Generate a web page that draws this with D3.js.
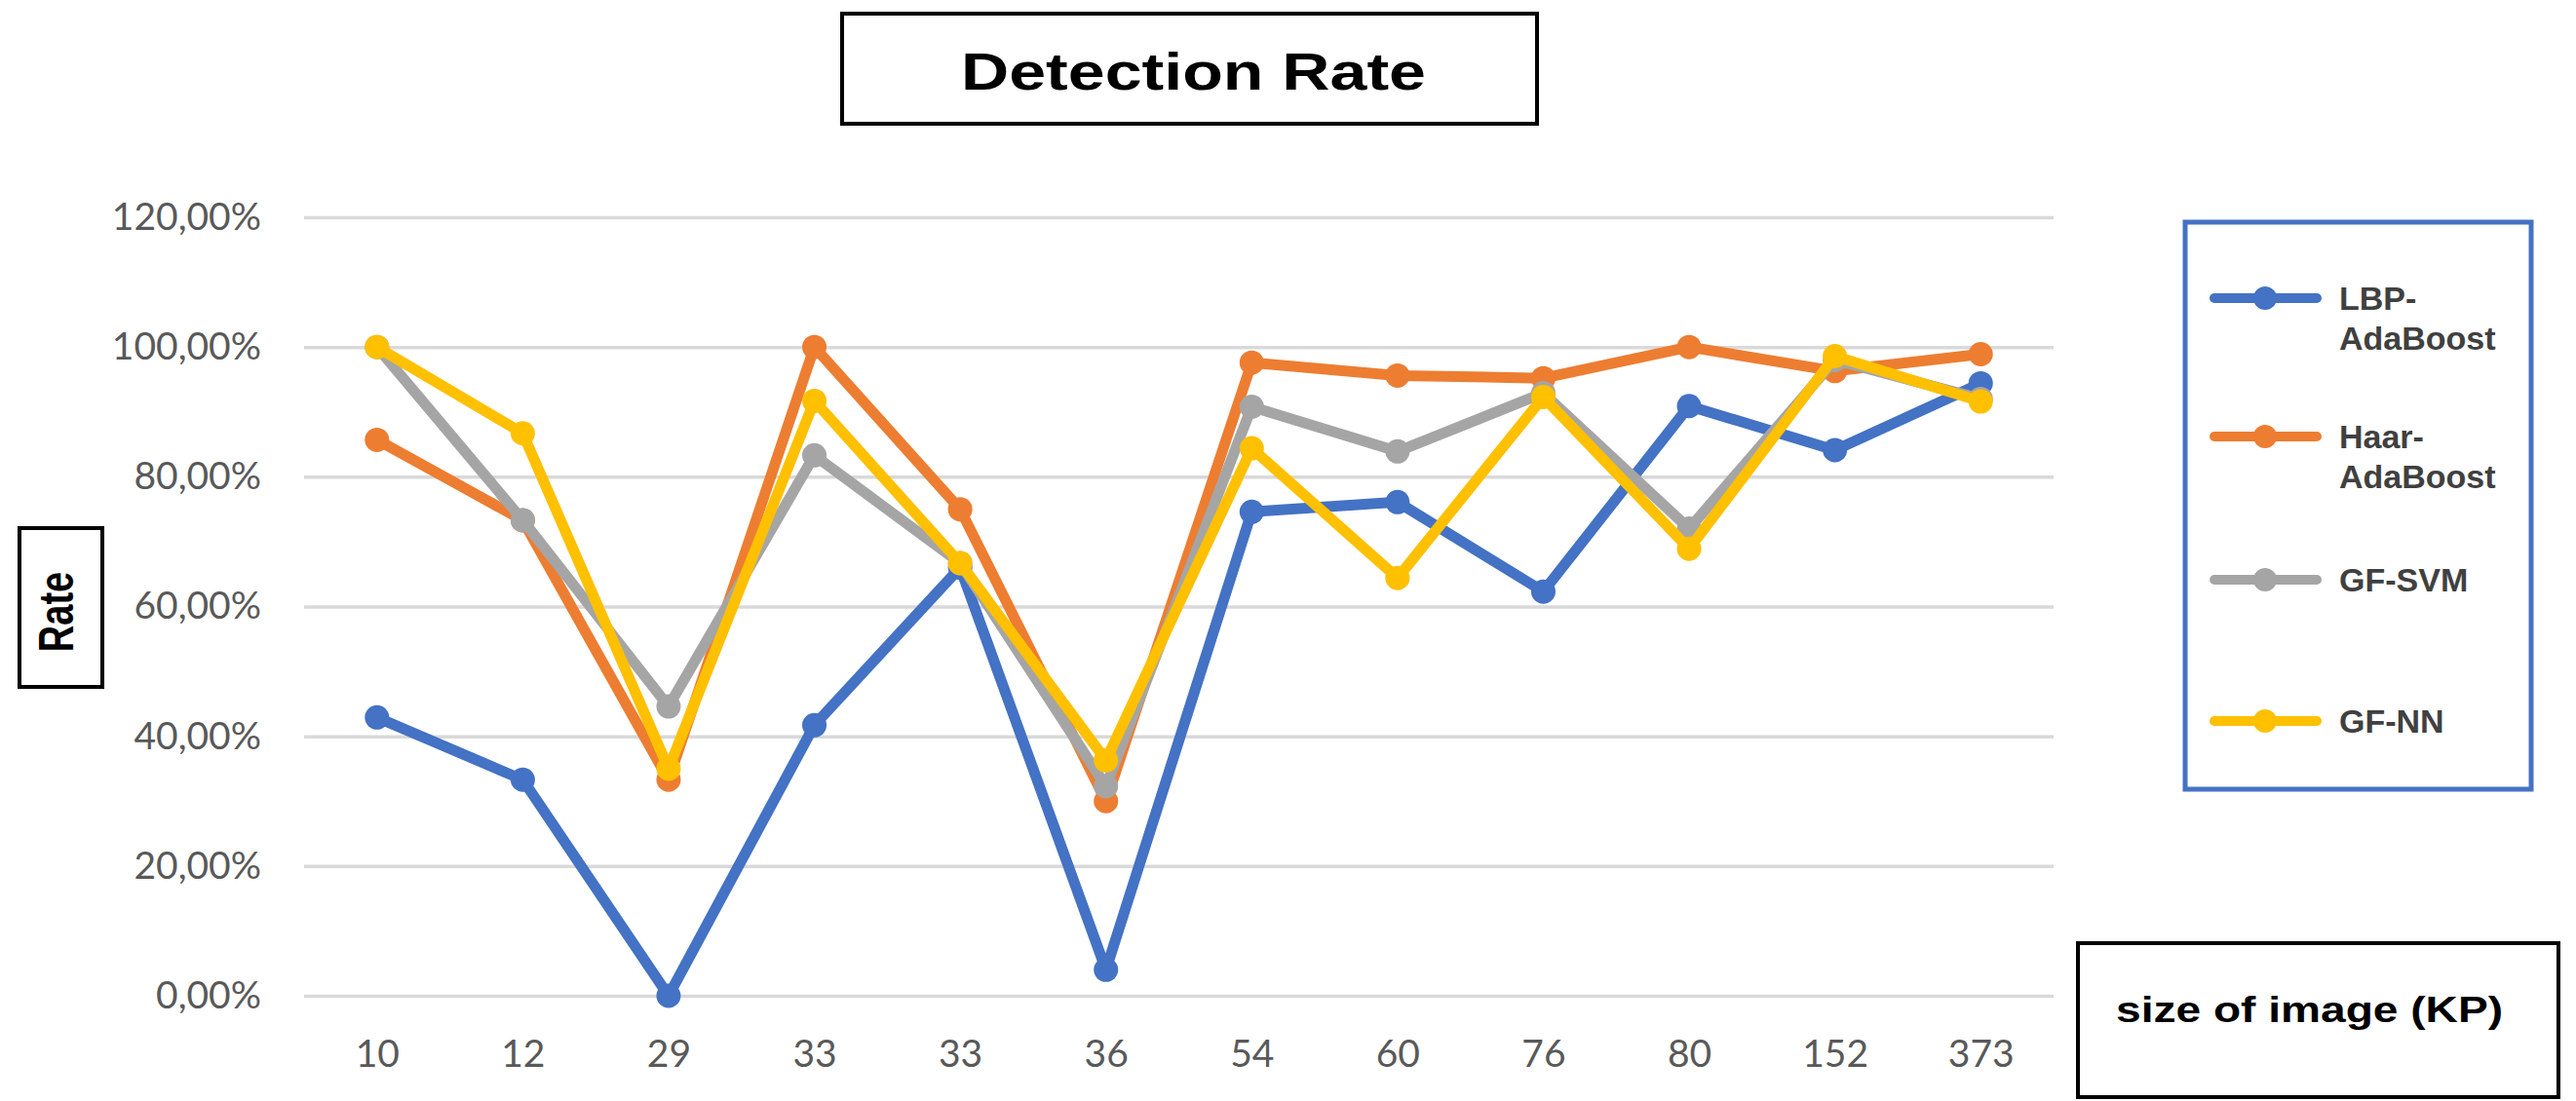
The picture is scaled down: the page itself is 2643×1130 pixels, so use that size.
<!DOCTYPE html>
<html>
<head>
<meta charset="utf-8">
<script src="https://cdn.jsdelivr.net/npm/d3@7"></script>
<style>
  body { margin: 0; background: #fff; }
  svg { display: block; }
</style>
</head>
<body>
<svg width="2643" height="1130"></svg>
<script>
// image sizes (KP) - "33" appears twice in the source chart
const categories = ["10", "12", "29", "33", "33", "36", "54", "60", "76", "80", "152", "373"];

const seriesNames = ["LBP-AdaBoost", "Haar-AdaBoost", "GF-SVM", "GF-NN"];
const legendLines = [["LBP-", "AdaBoost"], ["Haar-", "AdaBoost"], ["GF-SVM"], ["GF-NN"]];
const seriesColors = ["#4472C4", "#ED7D31", "#A5A5A5", "#FFC000"];

// detection rates
const lbpAdaBoost  = [0.429, 0.333, 0.000, 0.417, 0.660, 0.040, 0.746, 0.761, 0.623, 0.909, 0.841, 0.944];
const haarAdaBoost = [0.857, 0.733, 0.333, 1.000, 0.750, 0.300, 0.976, 0.956, 0.952, 1.000, 0.963, 0.989];
const gfSvm        = [1.000, 0.733, 0.446, 0.833, 0.667, 0.323, 0.908, 0.839, 0.929, 0.720, 0.980, 0.920];
const gfNn         = [1.000, 0.867, 0.350, 0.917, 0.667, 0.363, 0.844, 0.644, 0.923, 0.689, 0.986, 0.916];

const yTicks = [0, 0.2, 0.4, 0.6, 0.8, 1.0, 1.2];

const margens = { left: 312, right: 536, top: 223, bottom: 108 };

const svg = d3.select('svg');
const svgWidth = +svg.attr('width');
const svgHeight = +svg.attr('height');
const innerWidth = svgWidth - margens.left - margens.right;
const innerHeight = svgHeight - margens.top - margens.bottom;

const ptBR = d3.formatLocale({ decimal: ",", thousands: ".", grouping: [3], currency: ["", ""] });
const fmtPct = ptBR.format(".2%");

const g = svg.append('g')
    .attr('transform', `translate(${margens.left}, ${margens.top})`);

const x = d3.scalePoint()
    .domain(d3.range(categories.length))
    .range([0, innerWidth])
    .padding(0.5);

const y = d3.scaleLinear()
    .domain([0, 1.2])
    .range([innerHeight, 0]);

// horizontal gridlines + y labels
const axisY = g.append('g')
    .call(d3.axisLeft(y).tickValues(yTicks).tickSize(-innerWidth).tickPadding(44).tickFormat(fmtPct));
axisY.select('.domain').remove();
axisY.selectAll('line').attr('stroke', '#d9d9d9').attr('stroke-width', 3.5);
axisY.selectAll('text')
    .attr('fill', '#595959')
    .attr('font-family', 'Lato, sans-serif')
    .attr('font-size', 39);

// x labels
const axisX = g.append('g')
    .attr('transform', `translate(0,${innerHeight})`)
    .call(d3.axisBottom(x).tickSize(0).tickPadding(45).tickFormat(i => categories[i]));
axisX.select('.domain').remove();
axisX.selectAll('text')
    .attr('fill', '#595959')
    .attr('font-family', 'Lato, sans-serif')
    .attr('font-size', 39);

const allSeries = [lbpAdaBoost, haarAdaBoost, gfSvm, gfNn];

const line = d3.line()
    .x((d, i) => x(i))
    .y(d => y(d));

allSeries.forEach((vals, k) => {
    const sg = g.append('g');
    sg.append('path')
        .datum(vals)
        .attr('fill', 'none')
        .attr('stroke', seriesColors[k])
        .attr('stroke-width', 11)
        .attr('stroke-linejoin', 'round')
        .attr('stroke-linecap', 'round')
        .attr('d', line);
    sg.selectAll('circle')
        .data(vals)
        .join('circle')
        .attr('cx', (d, i) => x(i))
        .attr('cy', d => y(d))
        .attr('r', 12.5)
        .attr('fill', seriesColors[k]);
});

// title box
svg.append('rect')
    .attr('x', 864).attr('y', 14)
    .attr('width', 713).attr('height', 113)
    .attr('fill', '#fff').attr('stroke', '#000').attr('stroke-width', 4);
svg.append('text')
    .attr('x', 986).attr('y', 92)
    .attr('font-family', 'Liberation Sans, Arial, sans-serif')
    .attr('font-weight', 'bold')
    .attr('font-size', 53)
    .attr('textLength', 477)
    .attr('lengthAdjust', 'spacingAndGlyphs')
    .attr('fill', '#000')
    .text('Detection Rate');

// y axis title box
svg.append('rect')
    .attr('x', 20).attr('y', 542)
    .attr('width', 85).attr('height', 163)
    .attr('fill', '#fff').attr('stroke', '#000').attr('stroke-width', 4);
svg.append('text')
    .attr('transform', 'translate(75, 628) scale(1.3, 1) rotate(-90)')
    .attr('text-anchor', 'middle')
    .attr('font-family', 'Liberation Sans, Arial, sans-serif')
    .attr('font-weight', 'bold')
    .attr('font-size', 38)
    .attr('fill', '#000')
    .text('Rate');

// x axis title box
svg.append('rect')
    .attr('x', 2132).attr('y', 968)
    .attr('width', 493).attr('height', 158)
    .attr('fill', '#fff').attr('stroke', '#000').attr('stroke-width', 4);
svg.append('text')
    .attr('x', 2171).attr('y', 1049)
    .attr('font-family', 'Liberation Sans, Arial, sans-serif')
    .attr('font-weight', 'bold')
    .attr('font-size', 36)
    .attr('textLength', 397)
    .attr('lengthAdjust', 'spacingAndGlyphs')
    .attr('fill', '#000')
    .text('size of image (KP)');

// legend
const legend = svg.append('g');
legend.append('rect')
    .attr('x', 2242).attr('y', 228)
    .attr('width', 355).attr('height', 582)
    .attr('fill', '#fff').attr('stroke', '#4472C4').attr('stroke-width', 5);

const legendY = [306, 448, 595, 740];
seriesNames.forEach((name, k) => {
    const item = legend.append('g')
        .attr('transform', `translate(0, ${legendY[k]})`);
    item.append('line')
        .attr('x1', 2272).attr('x2', 2377)
        .attr('stroke', seriesColors[k])
        .attr('stroke-width', 10)
        .attr('stroke-linecap', 'round');
    item.append('circle')
        .attr('cx', 2324).attr('r', 12)
        .attr('fill', seriesColors[k]);
    const t = item.append('text')
        .attr('x', 2400)
        .attr('y', 12)
        .attr('font-family', 'Liberation Sans, Arial, sans-serif')
        .attr('font-weight', 'bold')
        .attr('font-size', 34)
        .attr('fill', '#404040');
    legendLines[k].forEach((s, j) => {
        t.append('tspan').attr('x', 2400).attr('dy', j === 0 ? 0 : 41).text(s);
    });
});
</script>
</body>
</html>
